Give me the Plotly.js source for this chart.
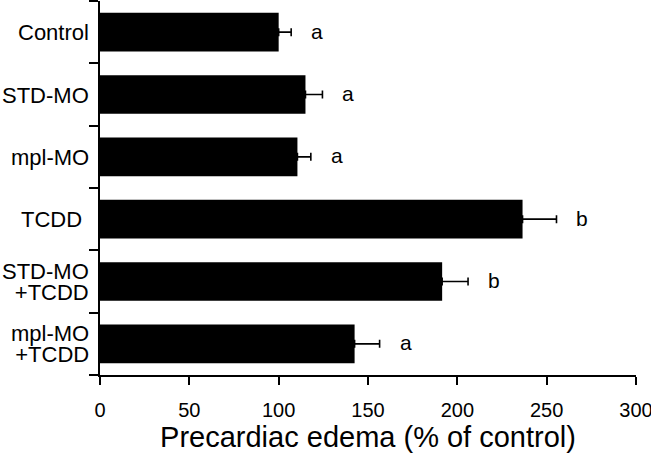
<!DOCTYPE html>
<html>
<head>
<meta charset="utf-8">
<script src="https://cdn.plot.ly/plotly-3.0.1.min.js"></script>
<style>html,body{margin:0;padding:0;background:#fff;overflow:hidden;}#chart{width:651px;height:459px;}</style>
</head>
<body>
<div id="chart"></div>
<script>
// Data
const categories = ["Control", "STD-MO", "mpl-MO", "TCDD", "STD-MO+TCDD", "mpl-MO+TCDD"];
const tickLabels = ["Control", "STD-MO", "mpl-MO", "TCDD", "STD-MO<br>+TCDD", "mpl-MO<br>+TCDD"];
const values = [100, 115, 110.5, 236.5, 191.5, 142.5];
const errors = [7, 9.5, 7.5, 19, 14.5, 14];
const letters = ["a", "a", "a", "b", "b", "a"];
const xTicks = [0, 50, 100, 150, 200, 250, 300];

const FONT = "Liberation Sans, Arial, Helvetica, sans-serif";

const trace = {
  type: "bar",
  orientation: "h",
  y: categories,
  x: values,
  width: 0.62,
  marker: {color: "#000000", line: {width: 0}},
  error_x: {
    type: "data",
    array: errors,
    symmetric: false,
    arrayminus: errors.map(() => 0),
    color: "#000000",
    thickness: 1.6,
    width: 4
  },
  hoverinfo: "none"
};

// significance letters
const annotations = categories.map((c, i) => ({
  x: values[i] + errors[i],
  y: c,
  xref: "x",
  yref: "y",
  text: letters[i],
  showarrow: false,
  xanchor: "center",
  yanchor: "middle",
  xshift: 26,
  yshift: 1,
  font: {family: FONT, size: 21, color: "#000"}
}));

// category labels: base font 16 gives the tight line spacing of the original,
// the visible text is drawn at 22 px
categories.forEach((c, i) => {
  const lines = tickLabels[i].split("<br>");
  annotations.push({
    x: 0,
    y: c,
    xref: "paper",
    yref: "y",
    text: lines.map(l => '<span style="font-size:22px">' + l + '</span>').join("<br>"),
    showarrow: false,
    align: "right",
    xanchor: "right",
    yanchor: "middle",
    xshift: (c === "TCDD" ? -16 : -9),
    yshift: -0.5,
    font: {family: FONT, size: 16, color: "#000"}
  });
});

const layout = {
  width: 651,
  height: 459,
  margin: {l: 100, r: 15, t: 1, b: 84},
  paper_bgcolor: "#ffffff",
  plot_bgcolor: "#ffffff",
  showlegend: false,
  font: {family: FONT, color: "#000"},
  xaxis: {
    range: [0, 300],
    tickvals: xTicks,
    ticktext: xTicks.map(String),
    ticks: "outside",
    ticklen: 8,
    tickwidth: 1.8,
    tickcolor: "#000",
    ticklabeloverflow: "allow",
    ticklabelstandoff: 8,
    showline: true,
    linecolor: "#000",
    linewidth: 1.8,
    showgrid: false,
    zeroline: false,
    tickfont: {family: FONT, size: 20, color: "#000"},
    title: {text: "Precardiac edema (% of control)", font: {family: FONT, size: 29, color: "#000"}, standoff: 6},
    fixedrange: true
  },
  yaxis: {
    type: "category",
    autorange: "reversed",
    tickvals: categories,
    showticklabels: false,
    tickson: "boundaries",
    ticks: "outside",
    ticklen: 9,
    tickwidth: 1.8,
    tickcolor: "#000",
    showline: true,
    linecolor: "#000",
    linewidth: 1.8,
    showgrid: false,
    zeroline: false,
    fixedrange: true
  },
  annotations: annotations
};

Plotly.newPlot("chart", [trace], layout, {displayModeBar: false, staticPlot: true});
</script>
</body>
</html>
